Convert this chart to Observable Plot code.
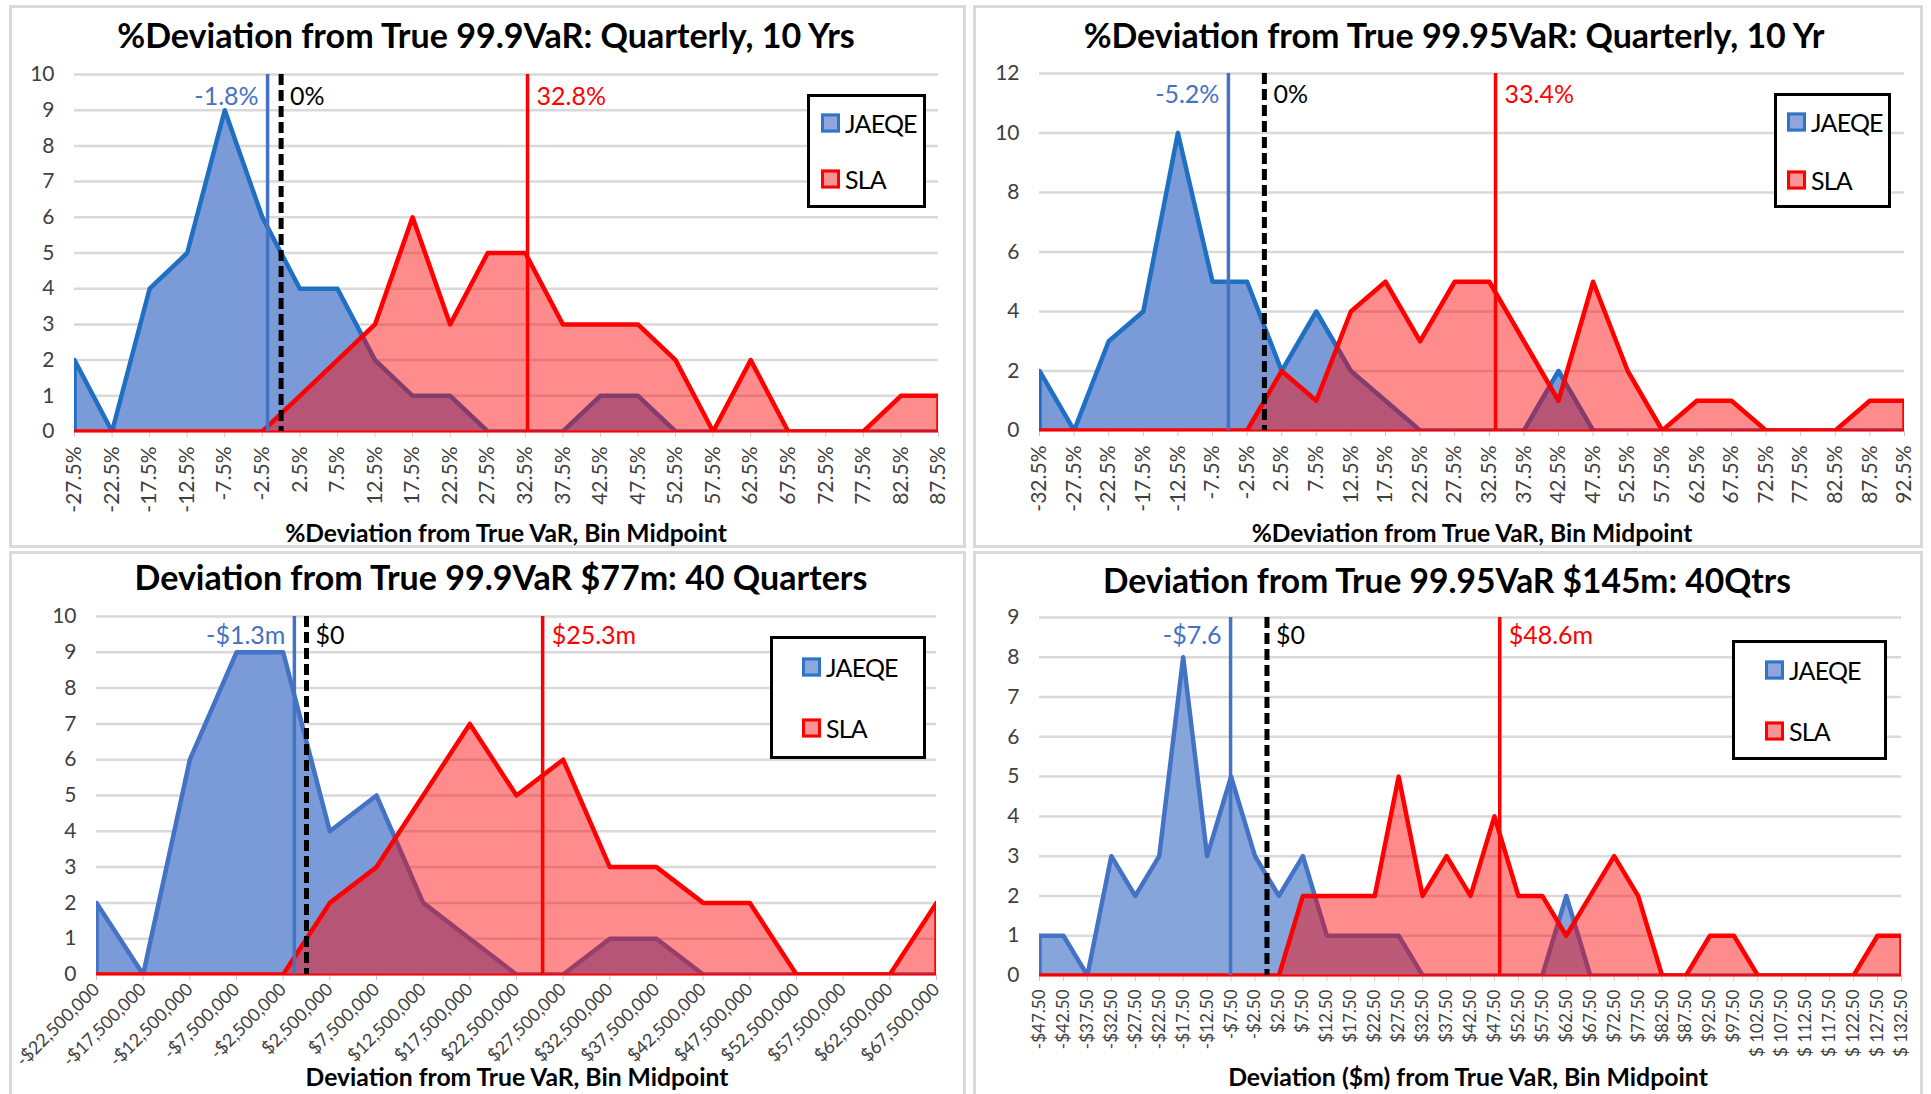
<!DOCTYPE html>
<html>
<head>
<meta charset="utf-8">
<script src="https://cdn.jsdelivr.net/npm/d3@7"></script>
<script src="https://cdn.jsdelivr.net/npm/@observablehq/plot@0.6"></script>
<style>
  html, body { margin: 0; padding: 0; background: #fff; }
  #root { position: relative; width: 1931px; height: 1094px; overflow: hidden; font-family: Lato, "Open Sans", sans-serif; }
  .border { position: absolute; border: 3px solid #dadada; box-sizing: border-box; }
  .abs { position: absolute; }
  .ctext { position: absolute; white-space: nowrap; line-height: 1; transform: translate(-50%, -50%); font-weight: 700; color: #000; }
  .legend { position: absolute; border: 3px solid #000; box-sizing: border-box; background: #fff; }
  .lrow { position: absolute; display: flex; align-items: center; font-size: 25px; color: #000; line-height: 1; transform: translateY(-50%); letter-spacing: -0.8px; }
  .sw { width: 13px; height: 13px; border: 3px solid; margin-right: 5px; flex: none; }
</style>
</head>
<body>
<div id="root"></div>
<script>
// ---------------- DATA ----------------
// Panel 1: %Deviation, 99.9 VaR
const p1Bins = [-27.5,-22.5,-17.5,-12.5,-7.5,-2.5,2.5,7.5,12.5,17.5,22.5,27.5,32.5,37.5,42.5,47.5,52.5,57.5,62.5,67.5,72.5,77.5,82.5,87.5];
const p1Jaeqe = [2,0,4,5,9,6,4,4,2,1,1,0,0,0,1,1,0,0,0,0,0,0,0,0];
const p1Sla   = [0,0,0,0,0,0,1,2,3,6,3,5,5,3,3,3,2,0,2,0,0,0,1,1];
const p1Means = [-1.8, 0, 32.8];
const p1MeanLabels = ["-1.8%", "0%", "32.8%"];
const p1Title = "%Deviation from True 99.9VaR: Quarterly, 10 Yrs";
const p1XTitle = "%Deviation from True VaR, Bin Midpoint";
const p1YTicks = [0,1,2,3,4,5,6,7,8,9,10];

// Panel 2: %Deviation, 99.95 VaR
const p2Bins = [-32.5,-27.5,-22.5,-17.5,-12.5,-7.5,-2.5,2.5,7.5,12.5,17.5,22.5,27.5,32.5,37.5,42.5,47.5,52.5,57.5,62.5,67.5,72.5,77.5,82.5,87.5,92.5];
const p2Jaeqe = [2,0,3,4,10,5,5,2,4,2,1,0,0,0,0,2,0,0,0,0,0,0,0,0,0,0];
const p2Sla   = [0,0,0,0,0,0,0,2,1,4,5,3,5,5,3,1,5,2,0,1,1,0,0,0,1,1];
const p2Means = [-5.2, 0, 33.4];
const p2MeanLabels = ["-5.2%", "0%", "33.4%"];
const p2Title = "%Deviation from True 99.95VaR: Quarterly, 10 Yr";
const p2XTitle = "%Deviation from True VaR, Bin Midpoint";
const p2YTicks = [0,2,4,6,8,10,12];

// Panel 3: $ Deviation, 99.9 VaR
const p3Bins = [-22500000,-17500000,-12500000,-7500000,-2500000,2500000,7500000,12500000,17500000,22500000,27500000,32500000,37500000,42500000,47500000,52500000,57500000,62500000,67500000];
const p3Jaeqe = [2,0,6,9,9,4,5,2,1,0,0,1,1,0,0,0,0,0,0];
const p3Sla   = [0,0,0,0,0,2,3,5,7,5,6,3,3,2,2,0,0,0,2];
const p3Means = [-1300000, 0, 25300000];
const p3MeanLabels = ["-$1.3m", "$0", "$25.3m"];
const p3Title = "Deviation from True 99.9VaR $77m: 40 Quarters";
const p3XTitle = "Deviation from True VaR, Bin Midpoint";
const p3YTicks = [0,1,2,3,4,5,6,7,8,9,10];

// Panel 4: $m Deviation, 99.95 VaR
const p4Bins = [-47.5,-42.5,-37.5,-32.5,-27.5,-22.5,-17.5,-12.5,-7.5,-2.5,2.5,7.5,12.5,17.5,22.5,27.5,32.5,37.5,42.5,47.5,52.5,57.5,62.5,67.5,72.5,77.5,82.5,87.5,92.5,97.5,102.5,107.5,112.5,117.5,122.5,127.5,132.5];
const p4Jaeqe = [1,1,0,3,2,3,8,3,5,3,2,3,1,1,1,1,0,0,0,0,0,0,2,0,0,0,0,0,0,0,0,0,0,0,0,0,0];
const p4Sla   = [0,0,0,0,0,0,0,0,0,0,0,2,2,2,2,5,2,3,2,4,2,2,1,2,3,2,0,0,1,1,0,0,0,0,0,1,1];
const p4Means = [-7.6, 0, 48.6];
const p4MeanLabels = ["-$7.6", "$0", "$48.6m"];
const p4Title = "Deviation from True 99.95VaR $145m: 40Qtrs";
const p4XTitle = "Deviation ($m) from True VaR, Bin Midpoint";
const p4YTicks = [0,1,2,3,4,5,6,7,8,9];

const seriesNames = ["JAEQE", "SLA"];

// ---------------- FORMATS ----------------
const fmtPct = d => d.toFixed(1) + "%";
const fmtDollar = d => (d < 0 ? "-" : "") + "$" + d3.format(",")(Math.abs(d));
const fmtDollarM = d => (d < 0 ? "-$" : "$") + (Math.abs(d) >= 100 ? " " : "") + Math.abs(d).toFixed(2);

// ---------------- STYLE ----------------
const RED = "#ff0000";
const RED_FILL = "rgba(255,0,0,0.45)";
const BLUE_MEAN = "#4472c4";
const SWATCH = [
  {stroke: "#2f75c6", fill: "#8fa6dc"},
  {stroke: "#ff0000", fill: "#f59595"}
];

const panels = [
  { bins: p1Bins, j: p1Jaeqe, s: p1Sla, means: p1Means, meanLabels: p1MeanLabels, title: p1Title, xTitle: p1XTitle, yTicks: p1YTicks,
    fmt: fmtPct, rotate: -90, tickFont: 21, tickPad: 9, blueStroke: "#1f6fc3", blueFill: "#7a9bd7",
    border: {l: 9, t: 5, r: 966, b: 548},
    svg: {x: 0, y: 60, w: 967, h: 460, ml: 74, mr: 29, mt: 14, mb: 89},
    tpos: {cx: 486, cy: 35, w: 738}, xt: {cx: 506, cy: 533, w: 442},
    legend: {l: 807, t: 94, w: 119, h: 114, r1: 29, r2: 85, sx: 14},
    labelDy: 22 },
  { bins: p2Bins, j: p2Jaeqe, s: p2Sla, means: p2Means, meanLabels: p2MeanLabels, title: p2Title, xTitle: p2XTitle, yTicks: p2YTicks,
    fmt: fmtPct, rotate: -90, tickFont: 21, tickPad: 9, blueStroke: "#1f6fc3", blueFill: "#7a9bd7",
    border: {l: 973, t: 5, r: 1923, b: 548},
    svg: {x: 967, y: 60, w: 964, h: 460, ml: 72, mr: 27, mt: 13, mb: 90},
    tpos: {cx: 1454, cy: 35, w: 741}, xt: {cx: 1472, cy: 533, w: 441},
    legend: {l: 1774, t: 93, w: 117, h: 115, r1: 29, r2: 87, sx: 13},
    labelDy: 21 },
  { bins: p3Bins, j: p3Jaeqe, s: p3Sla, means: p3Means, meanLabels: p3MeanLabels, title: p3Title, xTitle: p3XTitle, yTicks: p3YTicks,
    fmt: fmtDollar, rotate: -45, tickFont: 18, tickPad: 6, blueStroke: "#4472c4", blueFill: "#7a9bd7",
    border: {l: 9, t: 551, r: 966, b: 1110},
    svg: {x: 0, y: 600, w: 967, h: 494, ml: 96, mr: 31, mt: 16, mb: 120},
    tpos: {cx: 501, cy: 577, w: 733}, xt: {cx: 517, cy: 1077, w: 423},
    legend: {l: 770, t: 636, w: 156, h: 123, r1: 31, r2: 92, sx: 32},
    labelDy: 19 },
  { bins: p4Bins, j: p4Jaeqe, s: p4Sla, means: p4Means, meanLabels: p4MeanLabels, title: p4Title, xTitle: p4XTitle, yTicks: p4YTicks,
    fmt: fmtDollarM, rotate: -90, tickFont: 17, tickPad: 8, blueStroke: "#4472c4", blueFill: "#86a5db",
    border: {l: 973, t: 551, r: 1923, b: 1110},
    svg: {x: 967, y: 600, w: 964, h: 494, ml: 72, mr: 30, mt: 17, mb: 119},
    tpos: {cx: 1447, cy: 581, w: 688}, xt: {cx: 1468, cy: 1076, w: 480},
    legend: {l: 1732, t: 640, w: 155, h: 120, r1: 30, r2: 91, sx: 33},
    labelDy: 18 }
];

const root = document.getElementById("root");

function fitCenteredText(text, cx, cy, targetW, baseSize) {
  const el = document.createElement("div");
  el.className = "ctext";
  el.textContent = text;
  el.style.left = cx + "px";
  el.style.top = cy + "px";
  el.style.fontSize = baseSize + "px";
  root.appendChild(el);
  const w = el.getBoundingClientRect().width;
  if (w > 0) el.style.fontSize = (baseSize * targetW / w) + "px";
  return el;
}

function makeLegend(L) {
  const box = document.createElement("div");
  box.className = "legend";
  Object.assign(box.style, {left: L.l + "px", top: L.t + "px", width: L.w + "px", height: L.h + "px"});
  [L.r1, L.r2].forEach((ry, i) => {
    const row = document.createElement("div");
    row.className = "lrow";
    row.style.left = (L.sx - 3) + "px";
    row.style.top = (ry - 3) + "px";
    const sw = document.createElement("div");
    sw.className = "sw";
    sw.style.borderColor = SWATCH[i].stroke;
    sw.style.background = SWATCH[i].fill;
    const t = document.createElement("span");
    t.textContent = seriesNames[i];
    row.appendChild(sw);
    row.appendChild(t);
    box.appendChild(row);
  });
  root.appendChild(box);
}

function makePlot(P) {
  const L = P.svg;
  const first = P.bins[0], last = P.bins[P.bins.length - 1];
  const rows = P.bins.map((b, i) => ({x: b, j: P.j[i], s: P.s[i]}));
  const jLine = [{x: first, y: 0}, ...rows.map(r => ({x: r.x, y: r.j})), {x: last, y: 0}];
  const sLine = [{x: first, y: 0}, ...rows.map(r => ({x: r.x, y: r.s})), {x: last, y: 0}];
  const yMax = P.yTicks[P.yTicks.length - 1];
  return Plot.plot({
    width: L.w, height: L.h,
    marginLeft: L.ml, marginRight: L.mr, marginTop: L.mt, marginBottom: L.mb,
    style: {fontFamily: "Lato, 'Open Sans', sans-serif", background: "transparent", color: "#404040", overflow: "visible"},
    x: {type: "linear", domain: [first, last]},
    y: {domain: [0, yMax]},
    marks: [
      Plot.gridY(P.yTicks, {stroke: "#d9d9d9", strokeOpacity: 1, strokeWidth: 2.5}),
      Plot.axisY(P.yTicks, {tickSize: 0, tickPadding: 20, fontSize: 21, label: null, fill: "#404040"}),
      Plot.axisX(P.bins, {tickSize: 6, tickPadding: P.tickPad, tickRotate: P.rotate, tickFormat: P.fmt,
                          fontSize: P.tickFont, label: null, stroke: "#c8c8c8", fill: "#404040"}),
      Plot.areaY(rows, {x: "x", y: "j", fill: P.blueFill}),
      Plot.line(jLine, {x: "x", y: "y", stroke: P.blueStroke, strokeWidth: 4.5, clip: true}),
      Plot.areaY(rows, {x: "x", y: "s", fill: RED_FILL}),
      Plot.line(sLine, {x: "x", y: "y", stroke: RED, strokeWidth: 4.5, clip: true}),
      Plot.ruleY([0], {stroke: RED, strokeWidth: 2}),
      Plot.ruleX([P.means[0]], {stroke: BLUE_MEAN, strokeWidth: 3.5}),
      Plot.ruleX([P.means[2]], {stroke: RED, strokeWidth: 3.5}),
      Plot.ruleX([P.means[1]], {stroke: "#000", strokeWidth: 5, strokeDasharray: "11,5"}),
      Plot.text([P.meanLabels[0]], {x: () => P.means[0], text: d => d, frameAnchor: "top", dy: P.labelDy,
                                   textAnchor: "end", dx: -9, fill: BLUE_MEAN, fontSize: 25, lineAnchor: "middle"}),
      Plot.text([P.meanLabels[1]], {x: () => P.means[1], text: d => d, frameAnchor: "top", dy: P.labelDy,
                                   textAnchor: "start", dx: 9, fill: "#000", fontSize: 25, lineAnchor: "middle"}),
      Plot.text([P.meanLabels[2]], {x: () => P.means[2], text: d => d, frameAnchor: "top", dy: P.labelDy,
                                   textAnchor: "start", dx: 9, fill: RED, fontSize: 25, lineAnchor: "middle"})
    ]
  });
}

for (const P of panels) {
  const b = document.createElement("div");
  b.className = "border";
  Object.assign(b.style, {left: P.border.l + "px", top: P.border.t + "px",
    width: (P.border.r - P.border.l) + "px", height: (P.border.b - P.border.t) + "px"});
  root.appendChild(b);

  const wrap = document.createElement("div");
  wrap.className = "abs";
  wrap.style.left = P.svg.x + "px";
  wrap.style.top = P.svg.y + "px";
  wrap.appendChild(makePlot(P));
  root.appendChild(wrap);

  fitCenteredText(P.title, P.tpos.cx, P.tpos.cy, P.tpos.w, 30);
  fitCenteredText(P.xTitle, P.xt.cx, P.xt.cy, P.xt.w, 22);
  makeLegend(P.legend);
}
</script>
</body>
</html>
